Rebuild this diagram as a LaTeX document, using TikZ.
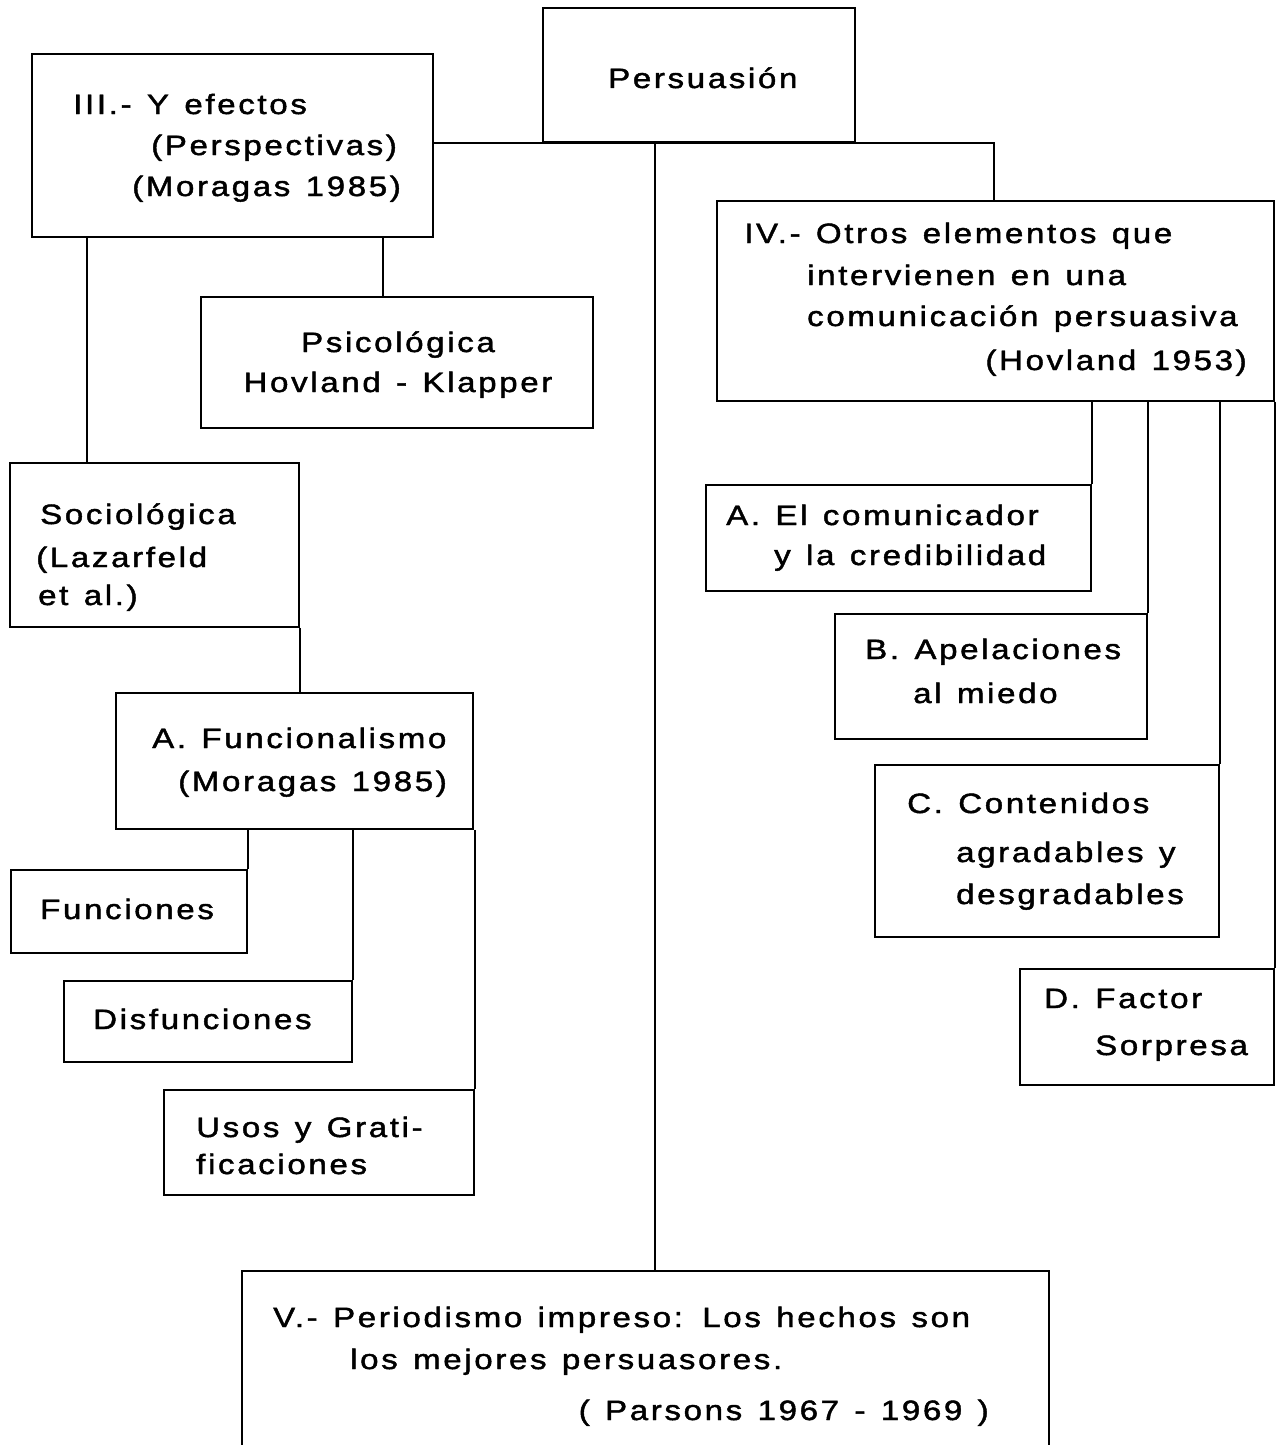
\documentclass[tikz,border=0pt]{standalone}
\usepackage{fontspec}
\setmainfont{Liberation Sans}[FakeStretch=1.18,LetterSpace=9.5,WordSpace=1.3,FakeBold=1.6,Ligatures=NoCommon]
\usetikzlibrary{fit}
\begin{document}
\begin{tikzpicture}[x=1pt,y=-1pt,
  box/.style={draw,line width=1.8pt,inner sep=0pt,rectangle},
  txt/.style={inner sep=0pt,anchor=base west,font=\fontsize{28}{34}\selectfont},
  conn/.style={line width=1.8pt}]
\useasboundingbox (0,0) rectangle (1277,1445);
% boxes
\node[box,fit={(543,8) (855,142)}] (pers) {};
\node[box,fit={(32,54) (433,237)}] (iii) {};
\node[box,fit={(201,297) (593,428)}] (psic) {};
\node[box,fit={(10,463) (299,627)}] (soc) {};
\node[box,fit={(116,693) (473,829)}] (afun) {};
\node[box,fit={(11,870) (247,953)}] (fun) {};
\node[box,fit={(64,981) (352,1062)}] (dis) {};
\node[box,fit={(164,1090) (474,1195)}] (usos) {};
\node[box,fit={(717,201) (1274,401)}] (iv) {};
\node[box,fit={(706,485) (1091,591)}] (acom) {};
\node[box,fit={(835,614) (1147,739)}] (bap) {};
\node[box,fit={(875,765) (1219,937)}] (ccon) {};
\node[box,fit={(1020,969) (1274,1085)}] (dfac) {};
\node[box,fit={(242,1271) (1049,1455)}] (vper) {};
% texts
\node[txt] (t1) at (608,88) {Persuasión};
\node[txt] (t2) at (73,114) {III.- Y efectos};
\node[txt] (t3) at (151,155) {(Perspectivas)};
\node[txt] (t4) at (132,196) {(Moragas 1985)};
\node[txt,anchor=base] (t5) at (398,352) {Psicológica};
\node[txt,anchor=base] (t6) at (398,392) {Hovland - Klapper};
\node[txt] (t7) at (40,524) {Sociológica};
\node[txt] (t8) at (36,567) {(Lazarfeld};
\node[txt] (t9) at (38,605) {et al.)};
\node[txt] (t10) at (152,748) {A. Funcionalismo};
\node[txt] (t11) at (178,791) {(Moragas 1985)};
\node[txt] (t12) at (40,919) {Funciones};
\node[txt] (t13) at (93,1029) {Disfunciones};
\node[txt] (t14) at (196,1137) {Usos y Grati-};
\node[txt] (t15) at (196,1174) {ficaciones};
\node[txt] (t16) at (744,243) {IV.- Otros elementos que};
\node[txt] (t17) at (807,285) {intervienen en una};
\node[txt] (t18) at (807,326) {comunicación persuasiva};
\node[txt,anchor=base east] (t19) at (1247,370) {(Hovland 1953)};
\node[txt] (t20) at (726,525) {A. El comunicador};
\node[txt] (t21) at (774,565) {y la credibilidad};
\node[txt] (t22) at (865,659) {B. Apelaciones};
\node[txt] (t23) at (913,703) {al miedo};
\node[txt] (t24) at (907,813) {C. Contenidos};
\node[txt] (t25) at (956,862) {agradables y};
\node[txt] (t26) at (956,904) {desgradables};
\node[txt] (t27) at (1044,1008) {D. Factor};
\node[txt] (t28) at (1095,1055) {Sorpresa};
\node[txt] (t29) at (273,1327) {V.- Periodismo impreso: Los hechos son};
\node[txt] (t30) at (350,1369) {los mejores persuasores.};
\node[txt,anchor=base east] (t31) at (989,1420) {( Parsons 1967 - 1969 )};
% connectors
\coordinate (j1) at (655,0 |- pers.south);
\coordinate (j2) at (994,0 |- pers.south);
\draw[conn] (iii.east |- j1) -- (j2) -- (j2 |- iv.north);
\draw[conn] (j1) -- (j1 |- vper.north);
\draw[conn] (87,0 |- iii.south) -- (87,0 |- soc.north);
\draw[conn] (383,0 |- iii.south) -- (383,0 |- psic.north);
\draw[conn] (soc.south east) -- (soc.south east |- afun.north);
\draw[conn] (fun.north east |- afun.south) -- (fun.north east);
\draw[conn] (dis.north east |- afun.south) -- (dis.north east);
\draw[conn] (usos.north east |- afun.south) -- (usos.north east);
\draw[conn] (acom.north east |- iv.south) -- (acom.north east);
\draw[conn] (bap.north east |- iv.south) -- (bap.north east);
\draw[conn] (ccon.north east |- iv.south) -- (ccon.north east);
\draw[conn] (dfac.north east |- iv.south) -- (dfac.north east);
\end{tikzpicture}
\end{document}
